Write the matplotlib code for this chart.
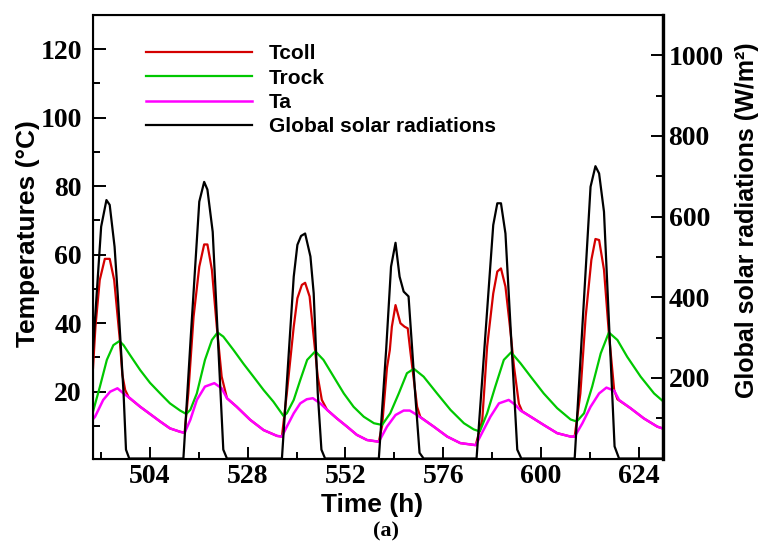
import matplotlib
matplotlib.use("Agg")
import matplotlib.pyplot as plt
from matplotlib.ticker import MultipleLocator

# collector temperature (Tcoll)
t_coll = [490, 490.6, 491.65, 492.9, 494.1, 495.2, 496.6, 497.2, 497.9, 498.8,
          501.6, 504, 506.5, 508.9, 511.4, 512.5,
          513.4, 514.7, 516.1, 517.3, 518.1, 519.2, 520.4, 521.6, 522.9,
          525.3, 528.6, 531.9, 535.2, 536.4,
          537.6, 539.3, 540.2, 541.3, 542.1, 543.2, 544.2, 545.2, 546.2,
          547.5, 549.9, 552.4, 554.8, 557.3, 560.2,
          561, 562.2, 562.9, 563.4, 564.3, 565.5, 566.5, 567.3, 567.9, 568.4, 569.6, 570.4,
          573.7, 577, 580.2, 584,
          585.6, 586.8, 588.3, 589.3, 590.2, 591.3, 592.4, 593.4, 594.6, 595.4,
          597.5, 600.7, 604, 607.3, 608.3,
          609.7, 611, 612.4, 613.4, 614.3, 615.5, 616.7, 618, 618.8,
          622, 625.3, 628.6, 630.6]
T_coll = [27, 39, 52.6, 58.8, 58.8, 52.6, 35, 25, 20.5, 18.3,
          15.6, 13.5, 11.3, 9.3, 8.3, 8.0,
          19.5, 41.9, 56.5, 63.0, 63.0, 55.6, 39, 24.4, 18.1,
          15.6, 11.8, 8.8, 7.1, 6.9,
          19.5, 39, 47.3, 51.2, 51.8, 47.8, 36.1, 24.4, 17.6,
          14.7, 12.2, 9.8, 7.4, 5.9, 5.4,
          10, 27, 32.2, 39, 45.3, 40, 39, 38.5, 32.2, 27.3, 15.6, 12.6,
          9.8, 6.9, 5.0, 4.4,
          11.7, 33.2, 48.7, 55.1, 56, 50.7, 39, 27.3, 16.5, 14.3,
          12.7, 10.3, 7.9, 6.9, 6.9,
          19.5, 41.9, 58.5, 64.6, 64.3, 55.6, 37.1, 20.5, 17.8,
          15.2, 12.2, 9.8, 9.0]

# rock bed temperature (Trock)
t_rock = [490, 491.7, 493.4, 495, 496.5, 497.5, 499.1, 501.6, 504.0, 506.5, 508.9, 511.4, 512.9,
          513.9, 515.5, 517.5, 519.2, 520.6, 522.0, 524.5, 527.0, 529.4, 531.9, 534.3, 536.8,
          537.6, 539.3, 540.9, 542.6, 544.6, 546.6, 549.1, 551.6, 554, 556.5, 559, 561,
          563, 565.1, 567.1, 568.8, 571.2, 574.5, 577.8, 581.1, 583.5, 585.0,
          586.8, 588.8, 590.9, 592.7, 595, 597.5, 600.7, 604, 607.3, 608.8,
          610.6, 612.6, 614.7, 616.7, 618.8, 621.2, 624.5, 627.8, 630.6]
T_rock = [14.2, 21.5, 29.3, 33.6, 34.8, 33.6, 30.7, 26.3, 22.6, 19.5, 16.6, 14.5, 13.5,
          14.7, 19.5, 29.3, 35.1, 37.3, 36.1, 32.2, 28.1, 24.4, 20.5, 17.1, 12.9,
          13.7, 17.6, 23.4, 29.3, 31.8, 29.3, 24.4, 19.5, 15.6, 12.7, 10.8, 10.3,
          13.7, 19.5, 25.4, 26.7, 24.4, 19.5, 14.7, 10.8, 9.0, 8.4,
          13.7, 21.5, 29.3, 31.5, 28.3, 24.4, 19.5, 15.2, 11.9, 11.3,
          13.7, 21.5, 31.2, 37.3, 35.1, 30.2, 24.4, 19.5, 16.6]

# ambient temperature (Ta)
t_amb = [490, 490.5, 492.5, 494.2, 496, 497.5, 499.1, 501.6, 504, 506.5, 508.9, 511.4, 512.5,
         513.9, 515.5, 517.5, 519.8, 521.6, 522.9, 525.3, 528.6, 531.9, 535.2, 536.4,
         537.6, 539.3, 540.9, 542.5, 544, 545.8, 547.5, 549.9, 552.4, 554.8, 557.3, 560.2,
         562.2, 564.3, 566.3, 567.8, 569.6, 570.8, 573.7, 577, 580.2, 584,
         585.9, 587.6, 589.7, 592.1, 593.8, 595, 597.5, 600.7, 604, 607.3, 608.3,
         610.2, 612.2, 614.3, 616.1, 618, 619.2, 622, 625.3, 628.6, 630.6]
T_amb = [12.0, 12.7, 17.6, 20, 21, 19.5, 18.1, 15.6, 13.5, 11.3, 9.3, 8.3, 8.0,
         11.8, 17.6, 21.5, 22.5, 21, 18.1, 15.6, 11.8, 8.8, 7.1, 6.9,
         9.8, 13.7, 16.6, 17.8, 18.1, 16.6, 14.7, 12.2, 9.8, 7.4, 5.9, 5.4,
         9.8, 13.2, 14.5, 14.5, 13.2, 12.2, 9.8, 6.9, 5.0, 4.4,
         8.8, 12.7, 16.6, 17.6, 16.1, 14.5, 12.7, 10.3, 7.9, 6.9, 6.9,
         10.8, 15.6, 19.5, 21.2, 20.3, 17.6, 15.2, 12.2, 9.8, 9.0]

# global solar radiation (W/m2)
t_sol = [490, 492.0, 493.3, 494.1, 495.3, 496.1, 497.5, 498.1, 498.9,
         512.2, 514, 516.1, 517.3, 518.1, 519.4, 522.0, 522.9,
         536.4, 539.3, 540.2, 541.1, 542.1, 543.4, 544.2, 545.2, 546.1, 547,
         560.2, 562.0, 563.2, 564.3, 565.3, 566.3, 567.5, 568.4, 569.2, 570.2, 571.2,
         584.2, 588.3, 589.3, 590.2, 591.3, 594.2, 595.2,
         608.3, 612.2, 613.4, 614.3, 615.5, 618.1, 619.2, 630]
G_sol = [270, 575, 641, 629, 525, 402, 163, 22, 0,
         0, 300, 637, 686, 667, 562, 22, 0,
         0, 451, 530, 552, 558, 501, 410, 162, 22, 0,
         0, 270, 476, 535, 451, 414, 402, 270, 150, 14, 0,
         0, 579, 633, 633, 558, 22, 0,
         0, 674, 725, 707, 612, 30, 0, 0]

x_ticks = [504, 528, 552, 576, 600, 624]

plt.rcParams['font.family'] = 'Liberation Sans'
plt.rcParams['mathtext.fontset'] = 'custom'
plt.rcParams['mathtext.rm'] = 'Liberation Serif'
plt.rcParams['mathtext.bf'] = 'Liberation Serif:bold'

fig = plt.figure(figsize=(7.58, 5.45), dpi=100)
ax = fig.add_axes([0.1227, 0.1587, 0.752, 0.8138])
ax2 = ax.twinx()

l1, = ax.plot(t_coll, T_coll, color='#d40000', lw=1.6, label='Tcoll')
l2, = ax.plot(t_rock, T_rock, color='#00c800', lw=1.6, label='Trock')
l3, = ax.plot(t_amb, T_amb, color='#ff00ff', lw=1.8, label='Ta')
l4, = ax2.plot(t_sol, G_sol, color='black', lw=1.6, label='Global solar radiations')

ax.set_xlim(490, 630)
ax.set_ylim(0.5, 130)
ax2.set_ylim(0, 1100)

ax.set_xticks(x_ticks)
ax.xaxis.set_minor_locator(MultipleLocator(12))
ax.yaxis.set_major_locator(MultipleLocator(20))
ax.yaxis.set_minor_locator(MultipleLocator(10))
ax2.yaxis.set_major_locator(MultipleLocator(200))
ax2.yaxis.set_minor_locator(MultipleLocator(100))
ax2.set_yticks([200, 400, 600, 800, 1000])

serif = {'family': 'Liberation Serif', 'weight': 'bold', 'size': 20}
ax.tick_params(which='both', direction='in', width=1.4, top=False, right=False)
ax.tick_params(which='major', length=9)
ax.tick_params(which='minor', length=5)
ax.tick_params(axis='y', pad=8)
ax.tick_params(axis='x', pad=4)
ax2.tick_params(which='both', direction='in', width=1.4, pad=4)
ax2.tick_params(which='major', length=9)
ax2.tick_params(which='minor', length=5)
for lab in ax.get_xticklabels() + ax.get_yticklabels() + ax2.get_yticklabels():
    lab.set_fontproperties(serif)

for sp in ax.spines.values():
    sp.set_linewidth(1.5)
ax2.spines['right'].set_linewidth(2.4)

ax.set_xlabel('Time (h)', fontsize=19, fontweight='bold')
ax.xaxis.set_label_coords(0.49, -0.077)
ax.set_ylabel('Temperatures (°C)', fontsize=19, fontweight='bold', va='center')
ax.yaxis.set_label_coords(-0.114, 0.507)
ax2.set_ylabel('Global solar radiations (W/m²)', fontsize=18, fontweight='bold', va='center')
ax2.yaxis.set_label_coords(1.147, 0.538)

leg = ax.legend(handles=[l1, l2, l3, l4], loc='upper left', bbox_to_anchor=(0.074, 0.957),
                frameon=False, prop={'weight': 'bold', 'size': 15},
                handlelength=5.1, handletextpad=0.8, labelspacing=0.25, borderpad=0)

fig.text(0.509, 0.024, '(a)', ha='center', va='center', family='Liberation Serif',
         fontsize=16, fontweight='bold')

fig.savefig('out.png', dpi=100)
